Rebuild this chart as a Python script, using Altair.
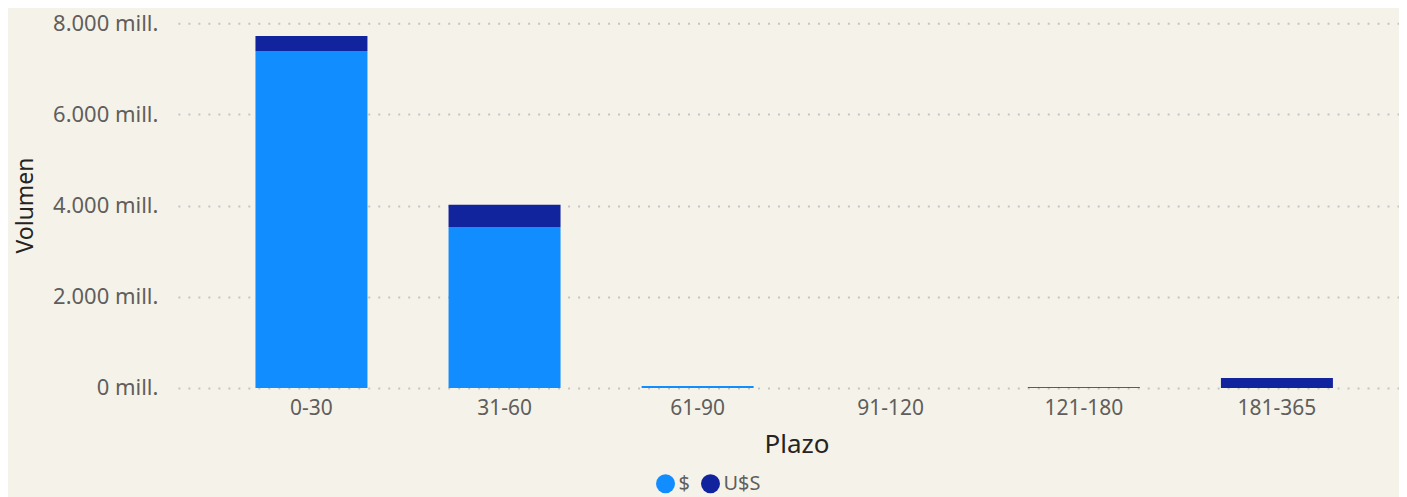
import altair as alt
import pandas as pd

categories = ["0-30", "31-60", "61-90", "91-120", "121-180", "181-365"]
peso = [7390, 3530, 40, 0, 0, 0]
usd = [330, 485, 0, 0, 15, 215]
series = ["$", "U$S"]
colors = ["#118DFF", "#12239E"]

rows = []
for c, p, u in zip(categories, peso, usd):
    rows.append({"Plazo": c, "Moneda": "$", "Volumen": p, "ord": 0})
    rows.append({"Plazo": c, "Moneda": "U$S", "Volumen": u, "ord": 1})
df = pd.DataFrame(rows)

FONT = "Noto Sans"
BG = "#F5F3E9"

chart = alt.Chart(df).mark_bar().encode(
    x=alt.X("Plazo:N", sort=categories, title="Plazo",
            scale=alt.Scale(paddingInner=0.42, paddingOuter=0.372, align=0.54),
            axis=alt.Axis(labelAngle=0, ticks=False, domain=False, grid=False,
                          labelFont=FONT, labelFontSize=21, labelColor="#605E5C",
                          labelPadding=10,
                          titleFont=FONT, titleFontSize=26, titleFontWeight="normal",
                          titleColor="#252423", titleX=619, titleY=57,
                          titleBaseline="middle", titleAlign="center")),
    y=alt.Y("Volumen:Q", title="Volumen", stack="zero",
            scale=alt.Scale(domain=[0, 8000], nice=False),
            axis=alt.Axis(values=[0, 2000, 4000, 6000, 8000], ticks=False, domain=False,
                          grid=True, gridColor="#C4C4C4", gridDash=[2, 8], gridWidth=2,
                          labelFont=FONT, labelFontSize=22, labelColor="#605E5C",
                          labelPadding=20,
                          labelExpr="replace(format(datum.value, ','), ',', '.') + ' mill.'",
                          titleFont=FONT, titleFontSize=23, titleFontWeight="normal",
                          titleColor="#252423", titleAngle=-90, titleX=-152, titleY=182,
                          titleBaseline="middle", titleAlign="center")),
    color=alt.Color("Moneda:N", scale=alt.Scale(domain=series, range=colors),
                    legend=alt.Legend(orient="none", direction="horizontal",
                                      legendX=478, legendY=451, title=None,
                                      symbolType="circle", symbolSize=361,
                                      symbolStrokeWidth=0, symbolOpacity=1,
                                      labelFont=FONT, labelFontSize=20,
                                      labelColor="#605E5C", labelOffset=3,
                                      columnPadding=10)),
    order=alt.Order("ord:Q"),
).properties(
    width=1222, height=365,
    autosize=alt.AutoSizeParams(type="none"),
    padding={"left": 170, "top": 15, "right": 0, "bottom": 109},
    background=BG,
).configure_view(stroke=None)

chart.save("out.html", embed_options={"renderer": "svg", "actions": False})
